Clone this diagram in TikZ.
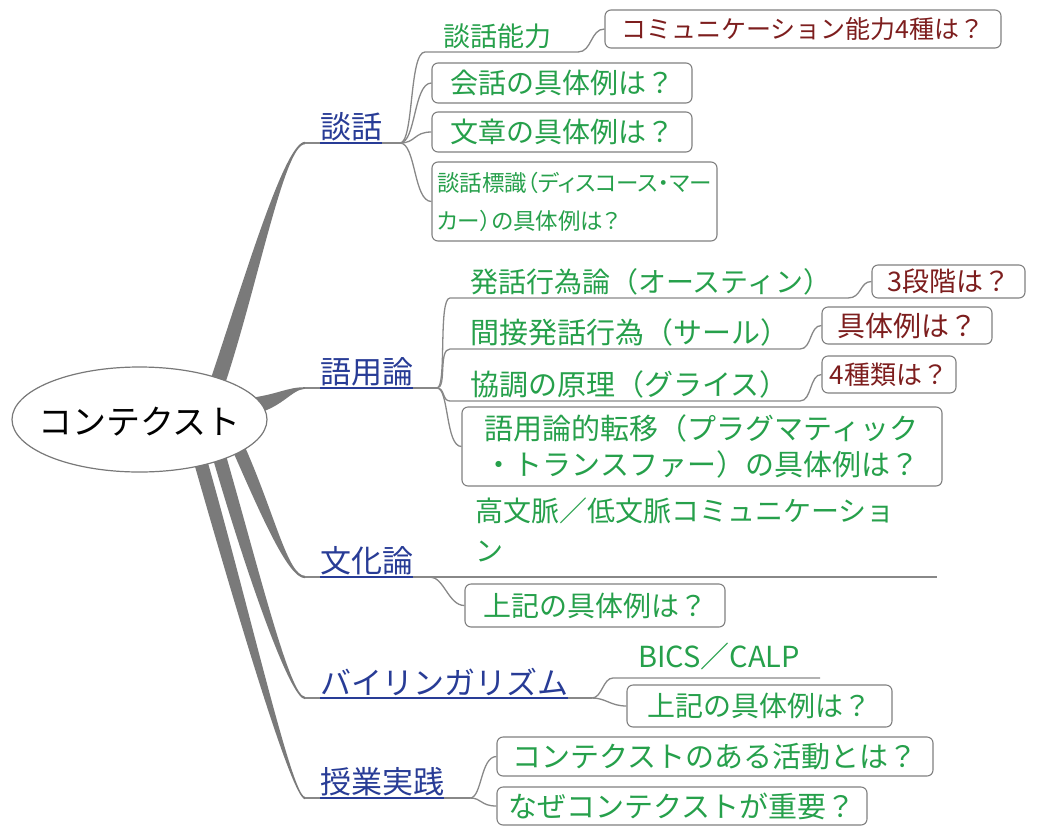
\documentclass[tikz,border=0pt]{standalone}
\usepackage{fontspec}
\setmainfont{Noto Sans CJK JP}
\newfontfamily\jpp{Noto Sans CJK JP}[RawFeature=+palt]
\usetikzlibrary{shapes.geometric,calc}
\definecolor{linec}{RGB}{136,136,136}
\definecolor{branchc}{RGB}{122,122,122}
\definecolor{boxc}{RGB}{128,128,128}
\definecolor{rootc}{RGB}{120,120,120}
\definecolor{greenc}{RGB}{38,160,75}
\definecolor{redc}{RGB}{125,30,30}
\definecolor{bluec}{RGB}{40,60,150}
\newcommand\mmtaper[7]{%
  \fill[branchc] ($(#1)+(-#5,0)$) .. controls ($(#2)+(-#5,0)$) and ($(#3)+(0,#6)$) .. ($(#4)+(0,#6)$)
    -- ($(#4)+(0,#7)$) .. controls ($(#3)+(0,#7)$) and ($(#2)+(#5,0)$) .. ($(#1)+(#5,0)$) -- cycle;}
\begin{document}
\begin{tikzpicture}[x=1pt,y=-1pt,
  conn/.style={draw=linec,line width=1.3},
  ul/.style={draw=bluec,line width=1.3},
  mainlbl/.style={text=bluec,inner sep=0,anchor=south west,font=\fontsize{31}{31}\selectfont},
  gtxt/.style={text=greenc,inner sep=0,anchor=south west},
  mbox/.style={draw=boxc,rounded corners=6,line width=1.1,fill=white,inner sep=0},
  rootshape/.style={ellipse,draw=rootc,line width=1.2,fill=white,minimum width=255,minimum height=105,inner sep=0},
  roottext/.style={inner sep=0,font=\fontsize{34}{34}\selectfont}]
\useasboundingbox (0,0) rectangle (1041,828);

% junction coordinates
\coordinate (dw-in) at (305,143); \coordinate (dw-f) at (400,143);
\coordinate (gy-in) at (305,388); \coordinate (gy-f) at (437,388);
\coordinate (bk-in) at (305,577); \coordinate (bk-f) at (430,577); \coordinate (bk-e) at (937,577);
\coordinate (bl-in) at (305,698); \coordinate (bl-f) at (592,698);
\coordinate (jg-in) at (305,798); \coordinate (jg-f) at (470,798);

% thick branches from the root
\coordinate (t1a) at (215,390); \coordinate (t1b) at (249,290); \coordinate (t1c) at (284,143);
\mmtaper{t1a}{t1b}{t1c}{dw-in}{8}{-1.2}{1.2}
\fill[branchc] (250,398) .. controls (279,394) and (287,387.2) .. ($(gy-in)+(0,-0.8)$)
  -- ($(gy-in)+(0,0.8)$) .. controls (291,389.5) and (282,409) .. (250,415) -- cycle;
\coordinate (t3a) at (238,447); \coordinate (t3b) at (268,515); \coordinate (t3c) at (288,577);
\mmtaper{t3a}{t3b}{t3c}{bk-in}{7}{1.2}{-1.2}
\coordinate (t4a) at (218,452); \coordinate (t4b) at (252,570); \coordinate (t4c) at (290,698);
\mmtaper{t4a}{t4b}{t4c}{bl-in}{7}{1.2}{-1.2}
\coordinate (t5a) at (199,456); \coordinate (t5b) at (243,610); \coordinate (t5c) at (292,798);
\mmtaper{t5a}{t5b}{t5c}{jg-in}{7}{1.2}{-1.2}

\node[rootshape] (root) at (139.5,419.5) {};
\node[roottext] (roottxt) at ($(root.center)+(0,2)$) {コンテクスト};

% main labels
\node[mainlbl] (dw) at (320,141) {談話};
\node[mainlbl] (gy) at (320,386) {語用論};
\node[mainlbl] (bk) at (320,575) {文化論};
\node[mainlbl] (bl) at (320,696) {バイリンガリズム};
\node[mainlbl] (jg) at (320,796) {授業実践};

% 談話
\node[gtxt,font=\fontsize{27}{27}\selectfont] (dnl) at (443,49) {談話能力};
\coordinate (dnl-a) at (425,52); \coordinate (dnl-b) at (578,52);
\node[mbox,minimum width=396,minimum height=38,text=redc,font=\fontsize{25}{25}\selectfont] (comm) at (803,29) {コミュニケーション能力4種は？};
\node[mbox,minimum width=260,minimum height=40,text=greenc,font=\fontsize{28}{28}\selectfont] (kaiwa) at (562,83) {会話の具体例は？};
\node[mbox,minimum width=260,minimum height=40,text=greenc,font=\fontsize{28}{28}\selectfont] (bunsho) at (562,132) {文章の具体例は？};
\node[mbox,minimum width=285,minimum height=79,text=greenc,align=left,font=\jpp\fontsize{22.5}{38}\selectfont] (dhs) at (574.5,201.5) {談話標識（ディスコース・マー\\カー）の具体例は？};

% 語用論
\node[gtxt,font=\fontsize{28}{28}\selectfont] (hw) at (470,295) {発話行為論（オースティン）};
\coordinate (hw-a) at (450,298); \coordinate (hw-b) at (848,298);
\node[mbox,minimum width=153,minimum height=33,text=redc,font=\fontsize{27}{27}\selectfont] (sdk) at (948.5,281.5) {3段階は？};
\node[gtxt,font=\fontsize{29}{29}\selectfont] (kh) at (470,346) {間接発話行為（サール）};
\coordinate (kh-a) at (450,349); \coordinate (kh-b) at (800,349);
\node[mbox,minimum width=170,minimum height=37,text=redc,font=\fontsize{28}{28}\selectfont] (gtr) at (907,325.5) {具体例は？};
\node[gtxt,font=\fontsize{29}{29}\selectfont] (kc) at (470,398) {協調の原理（グライス）};
\coordinate (kc-a) at (450,401); \coordinate (kc-b) at (800,401);
\node[mbox,minimum width=134,minimum height=37,text=redc,font=\fontsize{26}{26}\selectfont] (ssr) at (889,374.5) {4種類は？};
\node[mbox,minimum width=480,minimum height=79,text=greenc,align=left,font=\fontsize{29}{36}\selectfont] (gyt) at (702,446.5) {語用論的転移（プラグマティック\\・トランスファー）の具体例は？};

% 文化論
\node[gtxt,anchor=north west,align=left,font=\fontsize{28}{40}\selectfont] (hk) at (475,498) {高文脈／低文脈コミュニケーショ\\ン};
\node[mbox,minimum width=260,minimum height=43,text=greenc,font=\fontsize{28}{28}\selectfont] (bkbox) at (595,605.5) {上記の具体例は？};

% バイリンガリズム
\node[gtxt,anchor=base west,font=\fontsize{29}{29}\selectfont] (bics) at (638,667) {BICS／CALP};
\coordinate (bics-a) at (613,678); \coordinate (bics-b) at (820,678);
\node[mbox,minimum width=265,minimum height=42,text=greenc,font=\fontsize{28}{28}\selectfont] (blbox) at (759.5,706) {上記の具体例は？};

% 授業実践
\node[mbox,minimum width=436,minimum height=39,text=greenc,font=\fontsize{29}{29}\selectfont] (act) at (715,756.5) {コンテクストのある活動とは？};
\node[mbox,minimum width=370,minimum height=38,text=greenc,font=\fontsize{29}{29}\selectfont] (naze) at (682,806) {なぜコンテクストが重要？};

% connectors
\draw[conn] (dw-in) -- (dw-f);
\draw[ul] (dw.south west |- dw-in) -- (dw.south east |- dw-in);
\draw[conn] (dw-f) .. controls +(14,0) and +(-16,0) .. (dnl-a) -- (dnl-b) .. controls +(14,0) and +(-14,0) .. (comm.west);
\draw[conn] (dw-f) .. controls +(16,0) and +(-18,0) .. (kaiwa.west);
\draw[conn] (dw-f) .. controls +(16,0) and +(-18,0) .. (bunsho.west);
\draw[conn] (dw-f) .. controls +(16,0) and +(-18,0) .. (dhs.west);

\draw[conn] (gy-in) -- (gy-f);
\draw[ul] (gy.south west |- gy-in) -- (gy.south east |- gy-in);
\draw[conn] (gy-f) .. controls +(10,0) and +(-12,0) .. (hw-a) -- (hw-b) .. controls +(14,0) and +(-12,0) .. (sdk.west);
\draw[conn] (gy-f) .. controls +(10,0) and +(-12,0) .. (kh-a) -- (kh-b) .. controls +(12,0) and +(-12,0) .. (gtr.west);
\draw[conn] (gy-f) .. controls +(8,0) and +(-8,0) .. (kc-a) -- (kc-b) .. controls +(12,0) and +(-12,0) .. (ssr.west);
\draw[conn] (gy-f) .. controls +(12,0) and +(-16,0) .. (gyt.west);

\draw[conn] (bk-in) -- (bk-e);
\draw[ul] (bk.south west |- bk-in) -- (bk.south east |- bk-in);
\draw[conn] (bk-f) .. controls +(14,0) and +(-16,0) .. (bkbox.west);

\draw[conn] (bl-in) -- (bl-f);
\draw[ul] (bl.south west |- bl-in) -- (bl.south east |- bl-in);
\draw[conn] (bl-f) .. controls +(10,0) and +(-10,0) .. (bics-a) -- (bics-b);
\draw[conn] (bl-f) .. controls +(14,0) and +(-16,0) .. (blbox.west);

\draw[conn] (jg-in) -- (jg-f);
\draw[ul] (jg.south west |- jg-in) -- (jg.south east |- jg-in);
\draw[conn] (jg-f) .. controls +(12,0) and +(-16,0) .. (act.west);
\draw[conn] (jg-f) .. controls +(12,0) and +(-16,0) .. (naze.west);
\end{tikzpicture}
\end{document}
